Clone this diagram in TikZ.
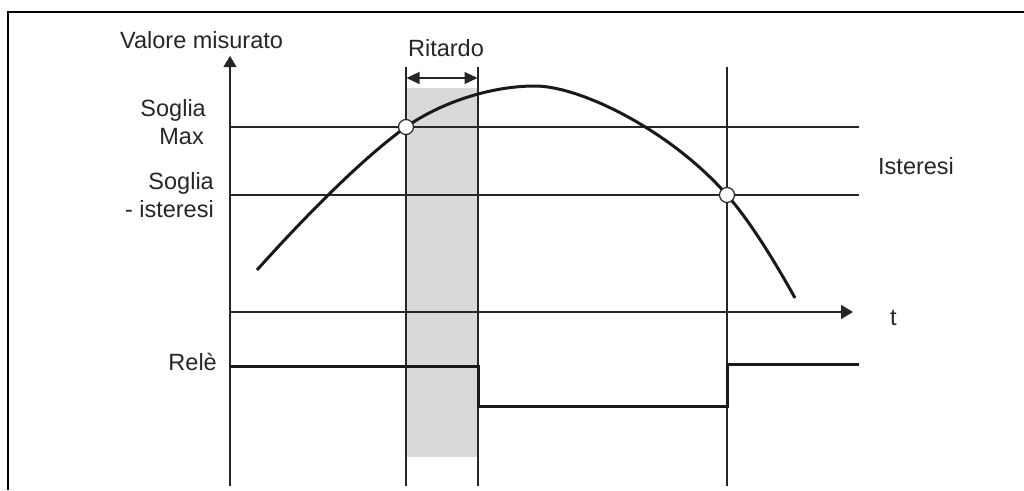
\documentclass[tikz,border=0pt]{standalone}
\usepackage{fontspec}
\setmainfont{Liberation Sans}
\usetikzlibrary{arrows.meta}
\begin{document}
\begin{tikzpicture}[x=1pt,y=-1pt,
  thinline/.style={line width=1.1pt,black!85},
  thickline/.style={line width=3pt,black!90},
  lbl/.style={inner sep=0pt,font=\fontsize{23.5}{27}\selectfont,text=black!85},
  marker/.style={circle,draw=black!85,line width=1.2pt,fill=white,minimum size=15pt,inner sep=0pt}]
\useasboundingbox (0,0) rectangle (1024,490);
% frame
\draw[line width=2.4pt] (8,490) -- (8,12) -- (1024,12);
% grey delay band
\fill[black!15] (406,88) rectangle (478,457);
% vertical markers
\draw[thinline] (406,67) -- (406,486);
\draw[thinline] (478,67) -- (478,486);
\draw[thinline] (727,67) -- (727,486);
% thresholds
\draw[thinline] (230,127) -- (859,127);
\draw[thinline] (230,195) -- (859,195);
% axes
\draw[thinline,-{Triangle[length=11pt,width=13pt]}] (230,486) -- (230,56);
\draw[thinline,-{Triangle[length=12pt,width=14pt]}] (230,312) -- (853,312);
% delay arrow
\draw[thinline,{Triangle[length=13pt,width=12pt]}-{Triangle[length=13pt,width=12pt]}] (406.5,78) -- (477.5,78);
% measured curve
\draw[thickline] (257,270) .. controls (300,222) and (360,160) .. (406,127)
  .. controls (440,103) and (490,86) .. (535,86)
  .. controls (580,86) and (670,130) .. (727,195)
  .. controls (750,221) and (775,262) .. (795,298);
% relay signal
\draw[thickline] (230,366) -- (478,366) -- (478,406) -- (727,406) -- (727,364) -- (859,364);
% intersection markers
\node[marker] (c1) at (406,127) {};
\node[marker] (c2) at (727,195) {};
% labels
\node[lbl,anchor=base west] (vm) at (120,48) {Valore misurato};
\node[lbl,anchor=base] (rit) at (446,56) {Ritardo};
\node[lbl,anchor=base east] (sm1) at (206,116) {Soglia};
\node[lbl,anchor=base east] (sm2) at (204,144) {Max};
\node[lbl,anchor=base east] (si1) at (214,189) {Soglia};
\node[lbl,anchor=base east] (si2) at (214,217) {- isteresi};
\node[lbl,anchor=base west] (ist) at (878,174) {Isteresi};
\node[lbl,anchor=base west] (tt) at (890,325) {t};
\node[lbl,anchor=base east] (rel) at (217,370) {Relè};
\end{tikzpicture}
\end{document}
